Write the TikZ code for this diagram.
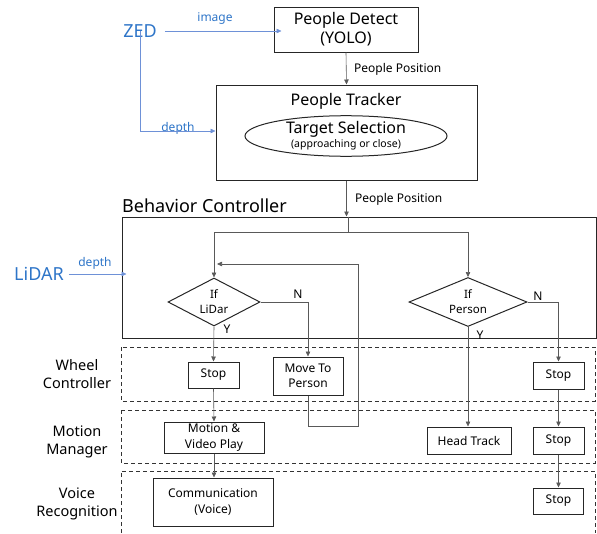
\documentclass[tikz,border=0pt]{standalone}
\usepackage{fontspec}
\setmainfont{Noto Sans}
\usetikzlibrary{shapes.geometric,arrows.meta}
\definecolor{srcblue}{RGB}{46,117,200}
\definecolor{srcline}{RGB}{110,145,215}
\begin{document}
\begin{tikzpicture}[x=1pt,y=-1pt,
    box/.style={draw=black!85,line width=1pt,inner sep=0pt,align=center,font=\fontsize{12}{15}\selectfont},
    cond/.style={draw=black!85,line width=1pt,diamond,shape aspect=2,inner sep=0pt,align=center,font=\fontsize{11.5}{15}\selectfont},
    lane/.style={draw=black!80,line width=1pt,dash pattern=on 4pt off 3pt},
    src/.style={text=srcblue,font=\fontsize{18}{20}\selectfont,inner sep=0pt},
    tag/.style={inner sep=0pt,font=\fontsize{12}{14}\selectfont},
    srctag/.style={tag,text=srcblue},
    wire/.style={draw=black!65,line width=0.6pt,-{Triangle[length=5pt,width=4.5pt]}},
    srcwire/.style={draw=srcline,line width=0.6pt,-{Triangle[length=5pt,width=4.5pt]}}]
  \useasboundingbox (0,0) rectangle (597,533);
  \node[src] (zed) at (140,31) {ZED};
  \node[src] (lidarsrc) at (39,274) {LiDAR};
  \node[box,minimum width=144,minimum height=45,font=\fontsize{16}{19}\selectfont] (detect) at (346,29.5) {People Detect\\(YOLO)};
  \node[box,minimum width=261,minimum height=95] (tracker) at (346.5,132.5) {};
  \node[tag,font=\fontsize{16}{19}\selectfont] (trackname) at (346,101) {People Tracker};
  \node[box,ellipse,minimum width=202,minimum height=36,font=\fontsize{16}{17}\selectfont] (select) at (346,136) {Target Selection\\[-3pt]{\fontsize{10.5}{12}\selectfont(approaching or close)}};
  \node[box,minimum width=474,minimum height=121] (behav) at (359,277.5) {};
  \node[tag,anchor=base west,font=\fontsize{18}{20}\selectfont] (behavname) at (122,212) {Behavior Controller};
  \node[cond,minimum width=92,minimum height=48] (iflidar) at (214,302) {If\\LiDar};
  \node[cond,minimum width=118,minimum height=49] (ifperson) at (468,302) {If\\Person};
  \node[box,minimum width=51,minimum height=26] (stopa) at (213.5,375) {Stop};
  \node[box,minimum width=70,minimum height=38] (move) at (308,376) {Move To\\Person};
  \node[box,minimum width=51,minimum height=27] (stopb) at (558.5,375.5) {Stop};
  \node[box,minimum width=100,minimum height=31,font=\fontsize{12}{16}\selectfont] (motion) at (214,437.5) {Motion \&\\Video Play};
  \node[box,minimum width=84,minimum height=27] (head) at (469,440.5) {Head Track};
  \node[box,minimum width=51,minimum height=27] (stopc) at (558.5,440.5) {Stop};
  \node[box,minimum width=120,minimum height=48,font=\fontsize{12}{16}\selectfont] (comm) at (213,502) {Communication\\(Voice)};
  \node[box,minimum width=50,minimum height=26] (stopd) at (558.5,501) {Stop};
  \node[tag,align=center,font=\fontsize{14.5}{18}\selectfont] (wheel) at (77,374) {Wheel\\Controller};
  \node[tag,align=center,font=\fontsize{14.5}{18}\selectfont] (manager) at (77,441.5) {Motion\\Manager};
  \node[tag,align=center,font=\fontsize{14.5}{18}\selectfont] (voice) at (77,504) {Voice\\Recognition};
  \node[srctag] (image) at (215,19) {image};
  \node[srctag] (zeddepth) at (178,128) {depth};
  \node[srctag] (lidardepth) at (95,263) {depth};
  \node[tag,anchor=west] (posa) at (354,69) {People Position};
  \node[tag,anchor=west] (posb) at (355,199) {People Position};
  \node[tag] (na) at (298,294) {N};
  \node[tag] (nb) at (538,296) {N};
  \node[tag] (ya) at (227,329) {Y};
  \node[tag] (yb) at (480,335) {Y};
  \coordinate (split) at (348,232);
  \coordinate (loopa) at (358,426);
  \coordinate (loopb) at (358,264);
  \coordinate (back) at (217,264);
  \draw[lane] (121,347) rectangle (595,401);
  \draw[lane] (121,410) rectangle (595,463);
  \draw[lane] (121,533) |- (595,471) -- (595,533);
  \begin{scope}[srcwire]
    \draw ([xshift=8pt]zed.east) -- ([xshift=8pt]zed.east -| detect.west);
    \draw ([yshift=7pt]zed.south) |- ([yshift=1.5pt]tracker.west);
    \draw ([xshift=5pt]lidarsrc.east) -- ([xshift=5pt]lidarsrc.east -| behav.west);
  \end{scope}
  \begin{scope}[wire]
    \draw (detect.south) -- (tracker.north);
    \draw (tracker.south) -- (tracker.south |- behav.north);
    \draw[-] (split |- behav.north) -- (split);
    \draw (split) -| (iflidar.north);
    \draw (split) -| (ifperson.north);
    \draw (iflidar.east) -| (move.north);
    \draw (iflidar.south) -- (stopa.north);
    \draw (ifperson.east) -| (stopb.north);
    \draw (ifperson.south) -- (ifperson.south |- head.north);
    \draw (stopa.south) -- (motion.north);
    \draw (motion.south) -- (motion.south |- comm.north);
    \draw (stopb.south) -- (stopc.north);
    \draw (stopc.south) -- (stopd.north);
    \draw (move.south) |- (loopa) -- (loopb) -- (back);
  \end{scope}
\end{tikzpicture}
\end{document}
